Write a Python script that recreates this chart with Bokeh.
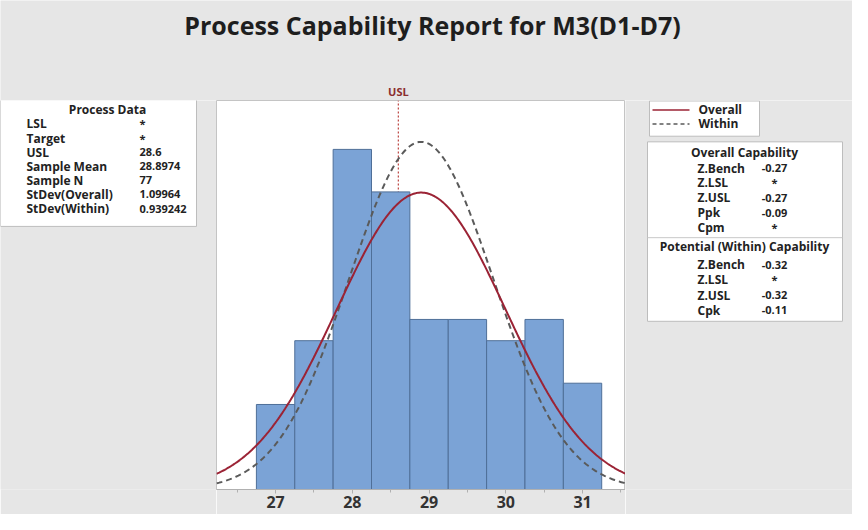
import numpy as np
from bokeh.plotting import figure
from bokeh.layouts import column, row
from bokeh.models import Label, Range1d, FixedTicker
from bokeh.embed import file_html
from bokeh.resources import INLINE

# ---------------- data ----------------
bin_edges = [26.75, 27.25, 27.75, 28.25, 28.75, 29.25, 29.75, 30.25, 30.75, 31.25]
counts = [4, 7, 16, 14, 8, 8, 7, 8, 5]
x_ticks = [27, 28, 29, 30, 31]
usl = 28.6
sample_mean = 28.8974
sample_n = 77
sd_overall = 1.09964
sd_within = 0.939242

title_text = "Process Capability Report for M3(D1-D7)"
pd_labels = ["LSL", "Target", "USL", "Sample Mean", "Sample N", "StDev(Overall)", "StDev(Within)"]
pd_values = ["*", "*", "28.6", "28.8974", "77", "1.09964", "0.939242"]
oc_labels = ["Z.Bench", "Z.LSL", "Z.USL", "Ppk", "Cpm"]
oc_values = ["-0.27", "*", "-0.27", "-0.09", "*"]
wc_labels = ["Z.Bench", "Z.LSL", "Z.USL", "Cpk"]
wc_values = ["-0.32", "*", "-0.32", "-0.11"]

# ---------------- layout geometry (page pixels) ----------------
FONT = "Open Sans"
GRAY = "#e6e6e6"
XMIN, XMAX = 26.23, 31.56
YMAX = 18.3
FX0, FX1, FY0, FY1 = 224, 633, 108, 497   # histogram frame in page pixels
PAGE_R, PAGE_B = 860, 522
U = (XMAX - XMIN) / (FX1 - FX0)            # data units per pixel


def blank(w, h, xr, yr):
    f = figure(width=w, height=h, x_range=xr, y_range=yr,
               x_axis_location=None, y_axis_location=None, min_border=0,
               output_backend="svg", toolbar_location=None)
    f.grid.visible = False
    f.outline_line_color = None
    f.background_fill_color = GRAY
    f.border_fill_color = GRAY
    return f


def label(f, x, y, text, size="12px", align="left", color="#222222", style="bold"):
    f.add_layout(Label(x=x, y=y, text=text, text_font=FONT,
                       text_font_size=size, text_font_style=style,
                       text_color=color, text_align=align, text_baseline="middle"))


def box(f, x0, y0, x1, y1):
    f.quad(left=[x0], right=[x1], top=[y0], bottom=[y1],
           fill_color="white", line_color="#bdbdbd", line_width=1)


def hline(f, x0, x1, y, color, dash="solid", width=1.0):
    f.segment(x0=[x0], y0=[y], x1=[x1], y1=[y], line_color=color,
              line_width=width, line_dash=dash)


VAL = "11px"

# ---------------- top strip: title + USL label ----------------
top = blank(PAGE_R - 8, FY0 - 8,
            Range1d(XMIN - (FX0 - 8) * U, XMAX + (PAGE_R - FX1) * U),
            Range1d(FY0, 8))
label(top, XMIN + (440 - FX0) * U, 32, title_text, size="25px", align="center",
      color="#1e1e1e")
label(top, usl, 99, "USL", size="11px", align="center", color="#8b2e2e")

# ---------------- histogram ----------------
p = figure(frame_width=FX1 - FX0, frame_height=FY1 - FY0,
           min_border_left=0, min_border_right=0, min_border_top=0,
           min_border_bottom=PAGE_B - FY1,
           x_range=Range1d(XMIN, XMAX), y_range=Range1d(0, YMAX),
           y_axis_location=None, output_backend="svg", toolbar_location=None)
p.border_fill_color = GRAY
p.background_fill_color = "white"
p.outline_line_color = "#c4c4c4"
p.grid.visible = False

p.xaxis.ticker = FixedTicker(ticks=x_ticks,
                             minor_ticks=[t + 0.5 for t in range(26, 32)])
p.xaxis.major_label_text_font = FONT
p.xaxis.major_label_text_font_size = "16px"
p.xaxis.major_label_text_font_style = "bold"
p.xaxis.major_label_text_color = "#333333"
p.xaxis.axis_line_color = "#b0b0b0"
p.xaxis.major_tick_line_color = "#b0b0b0"
p.xaxis.minor_tick_line_color = "#b0b0b0"
p.xaxis.major_tick_in = 0
p.xaxis.major_tick_out = 4
p.xaxis.minor_tick_in = 0
p.xaxis.minor_tick_out = 3
p.xaxis.major_label_standoff = 2

# USL line (behind bars)
p.segment(x0=[usl], y0=[0], x1=[usl], y1=[YMAX], line_color="#c0504d",
          line_width=1.3, line_dash="2 2")

# histogram bars
p.quad(left=bin_edges[:-1], right=bin_edges[1:], bottom=0, top=counts,
       fill_color="#7ba3d6", line_color="#4f6f98", line_width=1)

# fitted normal curves, scaled to counts per bin
bw = bin_edges[1] - bin_edges[0]
xs = np.linspace(XMIN, XMAX, 300)


def normal_counts(sd):
    return sample_n * bw * np.exp(-0.5 * ((xs - sample_mean) / sd) ** 2) / (sd * np.sqrt(2 * np.pi))


p.line(xs, normal_counts(sd_within), line_color="#5a5a5a", line_width=2, line_dash="6 4")
p.line(xs, normal_counts(sd_overall), line_color="#9b2335", line_width=2)

# ---------------- left panel: process data ----------------
left = blank(FX0 - 8, PAGE_B - FY0, Range1d(8, FX0), Range1d(PAGE_B, FY0))
box(left, 8, 107, 204, 242)
label(left, 115, 118, "Process Data", align="center")
for i, (lab, val) in enumerate(zip(pd_labels, pd_values)):
    label(left, 34, 133 + 15 * i, lab)
    label(left, 147, 133 + 15 * i, val, size=VAL)

# ---------------- right panel: legend + capability ----------------
right = blank(PAGE_R - FX1, PAGE_B - FY0, Range1d(FX1, PAGE_R), Range1d(PAGE_B, FY0))
box(right, 657, 108.5, 767, 146)
hline(right, 660, 697, 118, "#9b2335", width=1.5)
label(right, 706, 118, "Overall")
hline(right, 660, 697, 133, "#5a5a5a", dash="4 3", width=1.5)
label(right, 706, 133, "Within")

box(right, 655, 152, 850, 343)
label(right, 752, 163, "Overall Capability", align="center")
for i, (lab, val) in enumerate(zip(oc_labels, oc_values)):
    label(right, 705, 180 + 15.8 * i, lab)
    label(right, 782, 180 + 15.8 * i, val, size=VAL, align="center")
hline(right, 655, 850, 254, "#c8c8c8")
label(right, 752, 263, "Potential (Within) Capability", align="center")
for i, (lab, val) in enumerate(zip(wc_labels, wc_values)):
    label(right, 705, 283 + 16 * i, lab)
    label(right, 782, 283 + 16 * i, val, size=VAL, align="center")

layout = column(top, row(left, p, right, spacing=0), spacing=0)
open("out.html", "w").write(file_html(layout, INLINE))
